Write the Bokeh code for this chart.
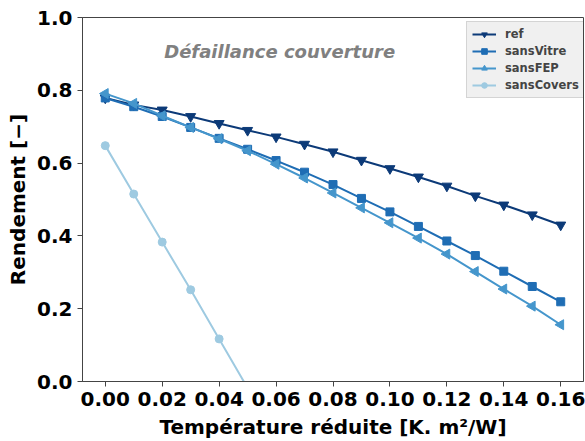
import math
from bokeh.plotting import figure
from bokeh.models import Range1d, Label, Legend, FixedTicker, NumeralTickFormatter
from bokeh.embed import file_html
from bokeh.resources import INLINE

x = [0.00, 0.01, 0.02, 0.03, 0.04, 0.05, 0.06, 0.07, 0.08, 0.09, 0.10, 0.11, 0.12, 0.13, 0.14, 0.15, 0.16]
ref = [0.779, 0.760, 0.746, 0.728, 0.709, 0.690, 0.672, 0.652, 0.631, 0.608, 0.585, 0.562, 0.537, 0.510, 0.485, 0.458, 0.430]
sans_vitre = [0.779, 0.755, 0.728, 0.698, 0.668, 0.638, 0.607, 0.575, 0.541, 0.503, 0.466, 0.426, 0.386, 0.346, 0.303, 0.261, 0.219]
sans_fep = [0.791, 0.764, 0.730, 0.698, 0.667, 0.634, 0.597, 0.559, 0.518, 0.477, 0.436, 0.394, 0.350, 0.302, 0.254, 0.207, 0.156]
x_covers = [0.00, 0.01, 0.02, 0.03, 0.04, 0.05]
sans_covers = [0.648, 0.515, 0.383, 0.252, 0.117, -0.018]

x_ticks = [0.00, 0.02, 0.04, 0.06, 0.08, 0.10, 0.12, 0.14, 0.16]
y_ticks = [0.0, 0.2, 0.4, 0.6, 0.8, 1.0]

FONT = "DejaVu Sans"
W, H = 585, 441
p = figure(width=W, height=H, output_backend="svg", toolbar_location=None,
           x_range=Range1d(-0.008, 0.168), y_range=Range1d(0.0, 1.0),
           min_border_left=82, min_border_right=2, min_border_top=17, min_border_bottom=58)
p.grid.visible = False
p.outline_line_color = "#444444"
p.outline_line_width = 1

for ax in (p.xaxis[0], p.yaxis[0]):
    ax.major_label_text_font = FONT
    ax.major_label_text_font_style = "bold"
    ax.major_label_text_font_size = "20px"
    ax.major_label_text_color = "black"
    ax.axis_label_text_font = FONT
    ax.axis_label_text_font_style = "bold"
    ax.axis_label_text_font_size = "20px"
    ax.axis_label_text_color = "black"
    ax.axis_line_color = "#444444"
    ax.major_tick_line_color = "#444444"
    ax.major_tick_out = 5
    ax.major_tick_in = 0
    ax.minor_tick_line_color = None

p.xaxis.ticker = FixedTicker(ticks=x_ticks)
p.yaxis.ticker = FixedTicker(ticks=y_ticks)
p.xaxis.formatter = NumeralTickFormatter(format="0.00")
p.yaxis.formatter = NumeralTickFormatter(format="0.0")
p.xaxis.axis_label = "Température réduite [K. m²/W]"
p.yaxis.axis_label = "Rendement [−]"
p.xaxis.axis_label_standoff = 6
p.yaxis.axis_label_standoff = 4

c_ref = "#0c3a78"
c_vitre = "#1f6db4"
c_fep = "#4596cc"
c_cov = "#9ecae1"

r1 = p.line(x, ref, line_color=c_ref, line_width=2)
m1 = p.scatter(x, ref, marker="inverted_triangle", size=10, color=c_ref)
r2 = p.line(x, sans_vitre, line_color=c_vitre, line_width=2)
m2 = p.scatter(x, sans_vitre, marker="square", size=8, color=c_vitre)
r3 = p.line(x, sans_fep, line_color=c_fep, line_width=2)
m3 = p.scatter(x, sans_fep, marker="triangle", angle=math.pi / 2, size=10, color=c_fep)
r4 = p.line(x_covers, sans_covers, line_color=c_cov, line_width=2)
m4 = p.scatter(x_covers, sans_covers, marker="circle", size=8, color=c_cov)

legend = Legend(items=[("ref", [r1, m1]), ("sansVitre", [r2, m2]),
                       ("sansFEP", [r3, m3]), ("sansCovers", [r4, m4])],
                location=(384, 283))
legend.label_text_font = FONT
legend.label_text_font_style = "bold"
legend.label_text_font_size = "11.5px"
legend.label_height = 14
legend.glyph_height = 14
legend.glyph_width = 24
legend.label_standoff = 9
legend.spacing = 3
legend.padding = 5
legend.margin = 0
legend.background_fill_color = "#f0f0f0"
legend.background_fill_alpha = 1.0
legend.border_line_color = "#b8b8b8"
p.add_layout(legend, "center")

p.add_layout(Label(x=0.0207, y=0.907, text="Défaillance couverture",
                   text_font=FONT, text_font_style="bold italic", text_font_size="18px",
                   text_color="#808080", text_baseline="middle", text_align="left"))

open("out.html", "w").write(file_html(p, INLINE))
